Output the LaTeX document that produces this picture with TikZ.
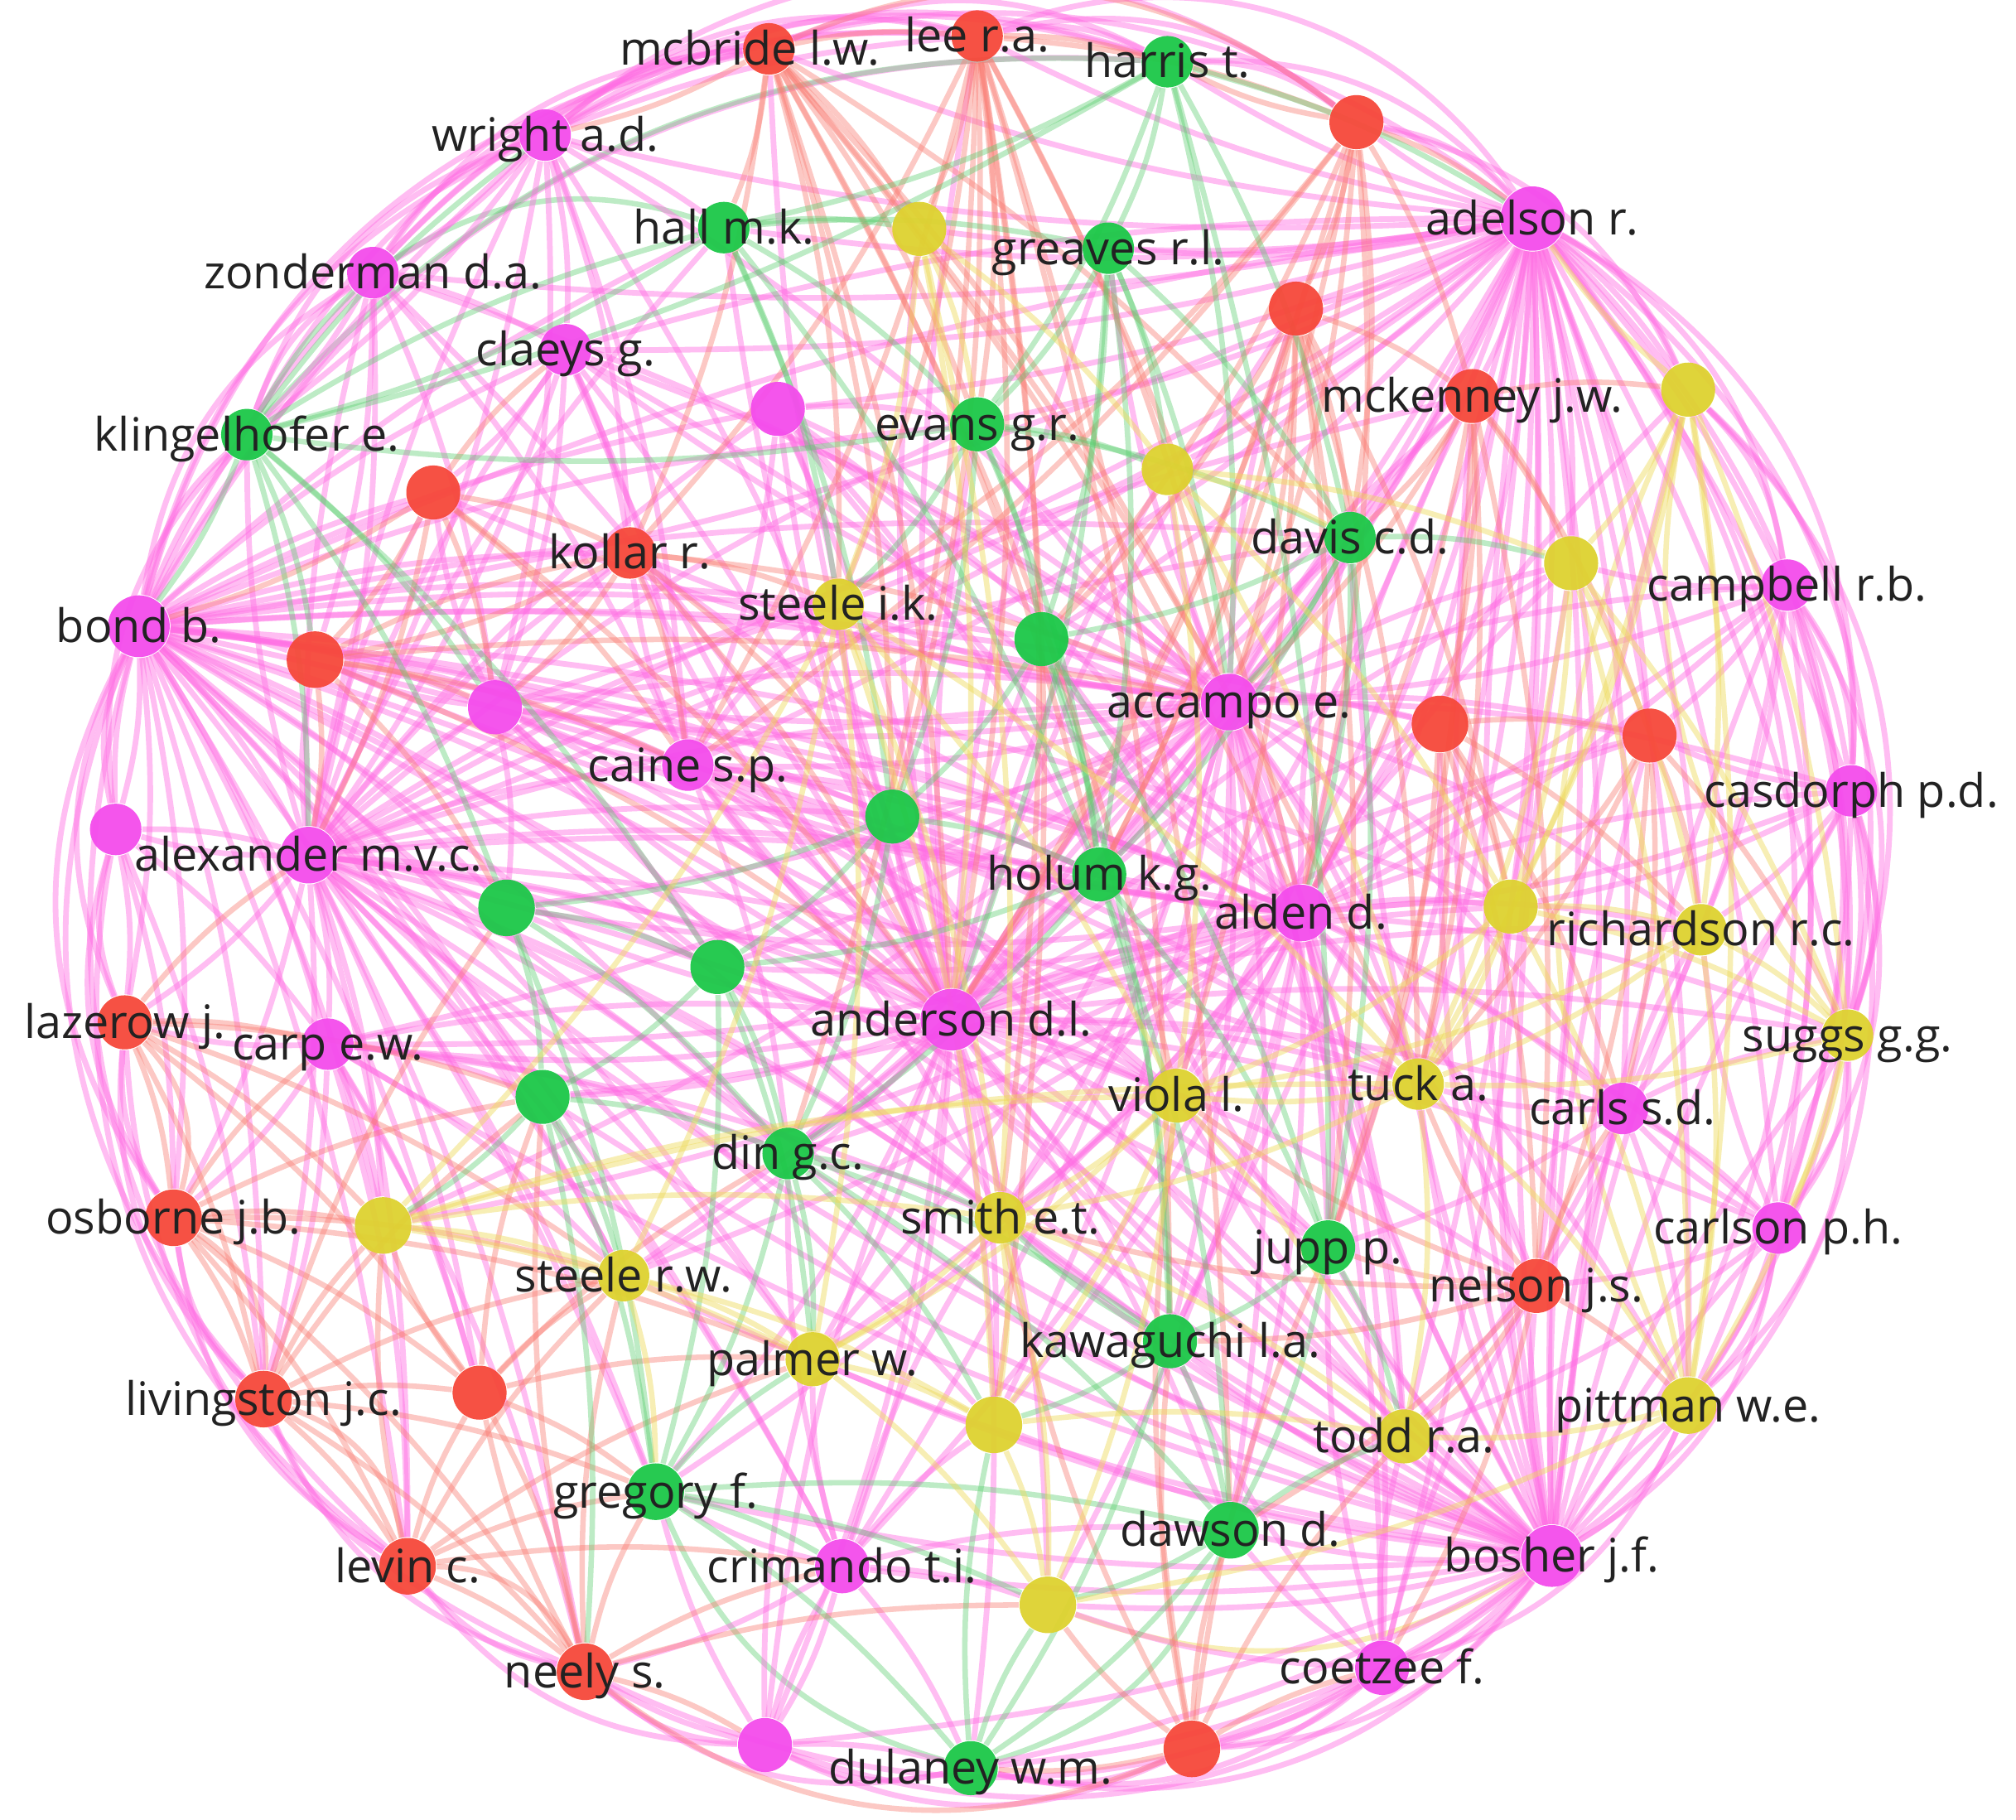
\documentclass[tikz,border=0pt]{standalone}
\usepackage{fontspec}
\setmainfont{Open Sans}
\pgfdeclarelayer{bg}
\pgfdeclarelayer{paper}
\pgfsetlayers{paper,bg,main}
\definecolor{cM}{RGB}{244,76,236}
\definecolor{cR}{RGB}{246,72,58}
\definecolor{cG}{RGB}{28,200,72}
\definecolor{cY}{RGB}{222,210,48}
\definecolor{eM}{RGB}{255,110,228}
\definecolor{eR}{RGB}{250,125,115}
\definecolor{eG}{RGB}{90,205,110}
\definecolor{eY}{RGB}{238,218,90}
\definecolor{txt}{RGB}{34,34,34}
\tikzset{
  nd/.style={circle,inner sep=0pt,draw=none,fill opacity=0.95},
  lab/.style={anchor=base,yshift=-0.125cm,text=txt,inner sep=0pt,font=\fontsize{10.2}{12}\selectfont},
  eMs/.style={draw=eM,line width=1.25pt,opacity=0.45},
  eRs/.style={draw=eR,line width=1.2pt,opacity=0.42},
  eGs/.style={draw=eG,line width=1.2pt,opacity=0.4},
  eYs/.style={draw=eY,line width=1.2pt,opacity=0.45},
}
\newcommand\Nd[5]{\node[nd,fill=#4,minimum size=#5cm] (#1) at (#2,#3) {};}
\newcommand\Ed[3]{\foreach \tgt in {#3} {\draw[#1] (#2) to[bend left=8] (\tgt);}}
\newcommand\Ring[3]{\foreach \sa/\sb in {#3} {\draw[#1] (\sa) to[bend left=#2] (\sb);}}
\begin{document}
\begin{tikzpicture}[x=0.01cm,y=-0.01cm]
\useasboundingbox (0,0) rectangle (1568,1415);
\begin{pgfonlayer}{paper}
\fill[white] (0,0) rectangle (1568,1415);
\end{pgfonlayer}
% nodes
\Nd{mcb}{598}{38}{cR}{0.40}
\Nd{lee}{760}{28}{cR}{0.40}
\Nd{har}{908}{48}{cG}{0.40}
\Nd{r4}{1055}{95}{cR}{0.42}
\Nd{wri}{424}{105}{cM}{0.40}
\Nd{ade}{1192}{170}{cM}{0.50}
\Nd{hal}{563}{177}{cG}{0.40}
\Nd{y8}{715}{178}{cY}{0.42}
\Nd{gre}{862}{193}{cG}{0.40}
\Nd{zon}{290}{212}{cM}{0.40}
\Nd{r11}{1008}{240}{cR}{0.42}
\Nd{cla}{440}{272}{cM}{0.40}
\Nd{m13}{605}{318}{cM}{0.42}
\Nd{eva}{760}{330}{cG}{0.42}
\Nd{mck}{1145}{308}{cR}{0.42}
\Nd{y16}{1313}{303}{cY}{0.42}
\Nd{kli}{192}{338}{cG}{0.40}
\Nd{y18}{908}{365}{cY}{0.40}
\Nd{r19}{337}{383}{cR}{0.42}
\Nd{kol}{490}{430}{cR}{0.40}
\Nd{dav}{1050}{418}{cG}{0.40}
\Nd{y22}{1222}{438}{cY}{0.42}
\Nd{cam}{1390}{455}{cM}{0.40}
\Nd{bon}{108}{487}{cM}{0.48}
\Nd{sik}{652}{470}{cY}{0.40}
\Nd{r26}{245}{513}{cR}{0.44}
\Nd{g27}{810}{497}{cG}{0.42}
\Nd{m28}{385}{550}{cM}{0.42}
\Nd{acc}{956}{546}{cM}{0.44}
\Nd{r30}{1120}{563}{cR}{0.44}
\Nd{r31}{1283}{572}{cR}{0.42}
\Nd{cai}{535}{595}{cM}{0.40}
\Nd{cas}{1440}{615}{cM}{0.40}
\Nd{m34}{90}{645}{cM}{0.40}
\Nd{g35}{694}{635}{cG}{0.42}
\Nd{ale}{240}{665}{cM}{0.44}
\Nd{hol}{855}{680}{cG}{0.42}
\Nd{ald}{1012}{710}{cM}{0.44}
\Nd{g39}{394}{706}{cG}{0.44}
\Nd{y40}{1175}{705}{cY}{0.42}
\Nd{ric}{1323}{723}{cY}{0.40}
\Nd{g42}{558}{752}{cG}{0.42}
\Nd{and}{740}{793}{cM}{0.48}
\Nd{laz}{97}{795}{cR}{0.42}
\Nd{crp}{255}{812}{cM}{0.40}
\Nd{sug}{1437}{805}{cY}{0.40}
\Nd{tuc}{1103}{843}{cY}{0.40}
\Nd{vio}{915}{852}{cY}{0.42}
\Nd{cls}{1262}{862}{cM}{0.40}
\Nd{g50}{422}{853}{cG}{0.42}
\Nd{din}{613}{897}{cG}{0.40}
\Nd{osb}{135}{947}{cR}{0.44}
\Nd{y53}{298}{953}{cY}{0.44}
\Nd{smi}{778}{947}{cY}{0.40}
\Nd{cln}{1383}{955}{cM}{0.40}
\Nd{jup}{1033}{970}{cG}{0.42}
\Nd{srw}{485}{992}{cY}{0.40}
\Nd{nel}{1195}{1000}{cR}{0.42}
\Nd{pal}{632}{1057}{cY}{0.42}
\Nd{kaw}{910}{1043}{cG}{0.42}
\Nd{r61}{373}{1083}{cR}{0.42}
\Nd{liv}{205}{1088}{cR}{0.44}
\Nd{y63}{773}{1108}{cY}{0.44}
\Nd{pit}{1313}{1093}{cY}{0.44}
\Nd{tod}{1092}{1117}{cY}{0.42}
\Nd{grg}{510}{1160}{cG}{0.44}
\Nd{daw}{957}{1190}{cG}{0.44}
\Nd{bos}{1207}{1210}{cM}{0.48}
\Nd{lev}{317}{1218}{cR}{0.44}
\Nd{cri}{655}{1218}{cM}{0.42}
\Nd{y71}{815}{1248}{cY}{0.44}
\Nd{nee}{455}{1300}{cR}{0.44}
\Nd{coe}{1075}{1297}{cM}{0.42}
\Nd{m74}{595}{1357}{cM}{0.42}
\Nd{dul}{755}{1375}{cG}{0.42}
\Nd{r76}{927}{1360}{cR}{0.44}
% labels
\node[lab] (lmcb) at ([xshift=-0.15cm]mcb) {mcbride l.w.};
\node[lab] (llee) at (lee) {lee r.a.};
\node[lab] (lhar) at (har) {harris t.};
\node[lab] (lwri) at (wri) {wright a.d.};
\node[lab] (lade) at (ade) {adelson r.};
\node[lab] (lhal) at (hal) {hall m.k.};
\node[lab] (lgre) at (gre) {greaves r.l.};
\node[lab] (lzon) at (zon) {zonderman d.a.};
\node[lab] (lcla) at (cla) {claeys g.};
\node[lab] (leva) at (eva) {evans g.r.};
\node[lab] (lmck) at (mck) {mckenney j.w.};
\node[lab] (lkli) at (kli) {klingelhofer e.};
\node[lab] (lkol) at (kol) {kollar r.};
\node[lab] (ldav) at (dav) {davis c.d.};
\node[lab] (lcam) at (cam) {campbell r.b.};
\node[lab] (lbon) at (bon) {bond b.};
\node[lab] (lsik) at (sik) {steele i.k.};
\node[lab] (lacc) at (acc) {accampo e.};
\node[lab] (lcai) at (cai) {caine s.p.};
\node[lab] (lcas) at (cas) {casdorph p.d.};
\node[lab] (lale) at (ale) {alexander m.v.c.};
\node[lab] (lhol) at (hol) {holum k.g.};
\node[lab] (lald) at (ald) {alden d.};
\node[lab] (lric) at (ric) {richardson r.c.};
\node[lab] (land) at (and) {anderson d.l.};
\node[lab] (llaz) at (laz) {lazerow j.};
\node[lab] (lcrp) at (crp) {carp e.w.};
\node[lab] (lsug) at (sug) {suggs g.g.};
\node[lab] (ltuc) at (tuc) {tuck a.};
\node[lab] (lvio) at (vio) {viola l.};
\node[lab] (lcls) at (cls) {carls s.d.};
\node[lab] (ldin) at (din) {din g.c.};
\node[lab] (losb) at (osb) {osborne j.b.};
\node[lab] (lsmi) at (smi) {smith e.t.};
\node[lab] (lcln) at (cln) {carlson p.h.};
\node[lab] (ljup) at (jup) {jupp p.};
\node[lab] (lsrw) at (srw) {steele r.w.};
\node[lab] (lnel) at (nel) {nelson j.s.};
\node[lab] (lpal) at (pal) {palmer w.};
\node[lab] (lkaw) at (kaw) {kawaguchi l.a.};
\node[lab] (lliv) at (liv) {livingston j.c.};
\node[lab] (lpit) at (pit) {pittman w.e.};
\node[lab] (ltod) at (tod) {todd r.a.};
\node[lab] (lgrg) at (grg) {gregory f.};
\node[lab] (ldaw) at (daw) {dawson d.};
\node[lab] (lbos) at (bos) {bosher j.f.};
\node[lab] (llev) at (lev) {levin c.};
\node[lab] (lcri) at (cri) {crimando t.i.};
\node[lab] (lnee) at (nee) {neely s.};
\node[lab] (lcoe) at (coe) {coetzee f.};
\node[lab] (ldul) at (dul) {dulaney w.m.};
% edges
\begin{pgfonlayer}{bg}
% outer ring arcs
\Ring{eMs}{18}{mcb/lee,lee/har,har/r4,r4/ade,ade/y16,y16/cam,cam/cas,cas/sug,sug/cln,cln/pit,pit/bos,bos/coe,coe/r76,r76/dul,dul/m74,m74/nee,nee/lev,lev/liv,liv/osb,osb/laz,laz/m34,m34/bon,bon/kli,kli/zon,zon/wri,wri/mcb}
\Ring{eMs}{25}{wri/lee,wri/har,zon/mcb,zon/lee,kli/wri,bon/zon,bon/wri,m34/kli,laz/bon,osb/m34,liv/laz,lev/osb,nee/liv,m74/lev,dul/nee,r76/m74,coe/dul,bos/r76,pit/coe,cln/bos,sug/pit,cas/cln,cam/sug,y16/cas,ade/cam,r4/y16,har/ade,lee/r4,mcb/har}
\Ring{eMs}{32}{wri/ade,zon/har,ade/cas,ade/sug,ade/cln,ade/pit,bos/dul,bos/m74,bos/nee,lev/bon,liv/bon,osb/bon,nee/laz,lev/m34,bon/mcb,kli/lee,bon/har,cam/bos,y16/sug,cas/bos}
\Ring{eMs}{38}{ade/bos,lee/ade,wri/r4}
\Ring{eRs}{30}{liv/lev,osb/liv,laz/osb,lev/nee,r76/nee,mcb/r4}
\Ring{eGs}{25}{dul/grg,kli/har,zon/hal,daw/dul}
\Ring{eYs}{25}{pit/y16,sug/y16,bos/y71}
% magenta hubs
\Ed{eMs}{bon}{wri,zon,cla,kli,r19,kol,r26,m28,cai,ale,m34,laz,crp,osb,liv,lev,sik,acc,ald,and,hol,g35,g39,g42,din,eva,m13,hal,dav,g27,r30,y40,tuc,vio,srw,y53,g50,r61,grg,cri,ade,bos,smi,pal}
\Ed{eMs}{ade}{har,r4,mcb,lee,hal,y8,gre,r11,mck,y16,dav,y22,cam,acc,ald,cas,ric,sug,cls,bos,and,cai,ale,bon,cla,wri,zon,eva,sik,hol,tuc,vio,cln,pit,nel,r30,r31,y40,g27,y18,m13,m28,jup,kaw,tod,coe,smi,din}
\Ed{eMs}{bos}{ade,cam,cas,sug,cln,pit,tod,cls,nel,jup,kaw,daw,coe,r76,dul,cri,y71,smi,and,ald,acc,ric,tuc,vio,ale,bon,cai,din,pal,srw,y40,r30,r31,dav,mck,y63,hol,g42,g35,m28,grg,y22,y16,m74,g50,crp}
\Ed{eMs}{ale}{m34,laz,crp,osb,liv,lev,r61,nee,grg,g39,g42,g50,y53,srw,cai,and,acc,ald,hol,kol,cla,zon,wri,kli,r19,r26,m28,g35,sik,eva,dav,cri,smi,din,pal,m13,hal,vio,tuc,y63,kaw,jup,mck}
\Ed{eMs}{and}{acc,ald,hol,g35,g42,g39,din,smi,vio,tuc,jup,kaw,pal,y63,cri,grg,srw,g50,cai,m28,kol,sik,eva,g27,dav,y18,r11,mck,y22,r30,r31,y40,ric,cls,nel,tod,daw,y71,dul,m74,crp,cla,m13,hal,gre,y8,lee,mcb,cln,sug}
\Ed{eMs}{acc}{ald,hol,g27,sik,eva,gre,y18,r11,dav,mck,y22,r30,r31,y40,ric,cas,cam,cls,tuc,vio,jup,kaw,nel,cai,m28,kol,cla,m13,g35,g42,din,smi,tod,daw,coe,pal,srw,crp,r26,r19,g39,y53,cri,y63}
\Ed{eMs}{ald}{hol,y40,ric,cls,tuc,vio,jup,nel,kaw,tod,daw,r30,r31,y22,dav,g27,cai,g35,g42,g39,din,smi,pal,m28,kol,cas,sug,cln,pit,coe,y71,y63,cri,grg,srw,g50,y53,crp,r26,mck,y16,m13}
\Ed{eMs}{wri}{zon,cla,kli,mcb,lee,cai,m28,kol,ale,acc,and,hal}
\Ed{eMs}{zon}{cla,kli,ale,cai,and,acc,m28,r26}
\Ed{eMs}{cla}{kol,cai,m28,r19,ale,and,acc,ald,ade}
\Ed{eMs}{m13}{eva,sik,acc,ald,and,hol,cai}
\Ed{eMs}{cam}{cas,ric,sug,cls,y22,r31,acc,ald,and,cln}
\Ed{eMs}{cas}{sug,cln,ric,cls,r31,y40,ald}
\Ed{eMs}{cai}{kol,m28,sik,g35,hol,ald,and,din,vio,tuc,jup,smi}
\Ed{eMs}{m28}{kol,r19,r26,cai,g39,g42,and,ald,acc}
\Ed{eMs}{m34}{laz,osb,ale,bon,crp,liv}
\Ed{eMs}{crp}{laz,osb,liv,lev,y53,srw,g50,r61,din,smi,and,nee}
\Ed{eMs}{cls}{ric,sug,cln,nel,tuc,tod,pit,jup}
\Ed{eMs}{cln}{pit,sug,ric,nel,tod,cls}
\Ed{eMs}{cri}{grg,pal,y63,nee,m74,dul,y71,din,smi,daw}
\Ed{eMs}{coe}{daw,tod,nel,r76,dul,y71,kaw,jup}
\Ed{eMs}{m74}{nee,cri,grg,dul,pal,and}
% red
\Ed{eRs}{mcb}{lee,wri,hal,y8,eva,sik,acc,and,g35,hol,ald,vio,tuc,dav,kol}
\Ed{eRs}{lee}{har,r4,y8,eva,sik,g35,and,smi,kaw,din,daw,y63,ald,acc,cai,kol}
\Ed{eRs}{r4}{har,ade,r11,mck,dav,acc,ald,and,cai,sik,g27,hol}
\Ed{eRs}{r11}{mck,dav,acc,ald,and,g27,hol,y40,jup,tuc,vio}
\Ed{eRs}{mck}{y16,dav,y22,acc,ald,r30,r31,tuc,jup,nel}
\Ed{eRs}{r19}{kol,r26,m28,cai,ale,bon,cla,and}
\Ed{eRs}{kol}{r26,cai,m28,and,sik,g35,acc}
\Ed{eRs}{r26}{m28,cai,ale,g39,and,acc,kol}
\Ed{eRs}{r30}{r31,y40,ric,tuc,cls,nel,jup}
\Ed{eRs}{r31}{ric,y40,cls,tuc,sug,nel}
\Ed{eRs}{laz}{osb,liv,crp,y53,ale,g50,srw,r61}
\Ed{eRs}{osb}{liv,lev,y53,r61,srw,crp,nee,g50,pal}
\Ed{eRs}{liv}{lev,r61,y53,nee,grg,srw,g50,g39}
\Ed{eRs}{lev}{nee,r61,grg,y53,srw,cri,pal}
\Ed{eRs}{r61}{nee,srw,grg,y53,g50,din,pal}
\Ed{eRs}{nee}{grg,srw,r61,g50,m74,cri,y71}
\Ed{eRs}{nel}{tod,jup,kaw,cls,pit,daw,coe,tuc,vio,smi}
\Ed{eRs}{r76}{coe,daw,y71,dul,kaw,tod,jup,smi,vio}
% green
\Ed{eGs}{har}{hal,gre,eva,dav,kli,ade,jup,acc}
\Ed{eGs}{hal}{gre,eva,kli,y8,sik,g35,hol}
\Ed{eGs}{gre}{eva,dav,y18,g27,hol,acc,and}
\Ed{eGs}{eva}{g27,hol,dav,g35,sik,y18,kli}
\Ed{eGs}{kli}{bon,ale,g39,g42,hal,wri,zon,m28,r26}
\Ed{eGs}{dav}{jup,g27,hol,y22,acc,ald}
\Ed{eGs}{g27}{hol,g35,jup,kaw}
\Ed{eGs}{g35}{hol,g42,din,g39}
\Ed{eGs}{hol}{jup,kaw,daw,g42,din}
\Ed{eGs}{g39}{g42,g50,din,grg}
\Ed{eGs}{g42}{din,g50,grg,pal}
\Ed{eGs}{g50}{din,grg,srw,y53,nee}
\Ed{eGs}{din}{grg,pal,smi,kaw,daw,y63}
\Ed{eGs}{jup}{kaw,daw,tod}
\Ed{eGs}{kaw}{daw,dul,y63,smi}
\Ed{eGs}{grg}{dul,daw,y71,pal,cri}
\Ed{eGs}{daw}{dul,y71,tod}
\Ed{eGs}{dul}{y71,y63}
% yellow
\Ed{eYs}{y8}{sik,eva,y18,and,smi}
\Ed{eYs}{y16}{y22,ric,sug,pit,y40,tuc,ade}
\Ed{eYs}{y18}{y22,dav,y40,tuc,vio}
\Ed{eYs}{y22}{ric,sug,y40,tuc,pit}
\Ed{eYs}{sik}{vio,smi,pal,y63,tuc,y53,srw}
\Ed{eYs}{y40}{ric,sug,tuc,vio,pit}
\Ed{eYs}{ric}{sug,pit,tuc,vio}
\Ed{eYs}{sug}{pit,tuc,cln}
\Ed{eYs}{tuc}{vio,tod,pit,smi}
\Ed{eYs}{vio}{smi,y63,tod,y71,pal}
\Ed{eYs}{y53}{srw,pal,smi,tuc,vio}
\Ed{eYs}{smi}{pal,y63,y71,tod}
\Ed{eYs}{srw}{pal,y63,grg}
\Ed{eYs}{pal}{y63,y71}
\Ed{eYs}{y63}{y71,tod}
\Ed{eYs}{pit}{tod,y71}
\end{pgfonlayer}
\end{tikzpicture}
\end{document}
